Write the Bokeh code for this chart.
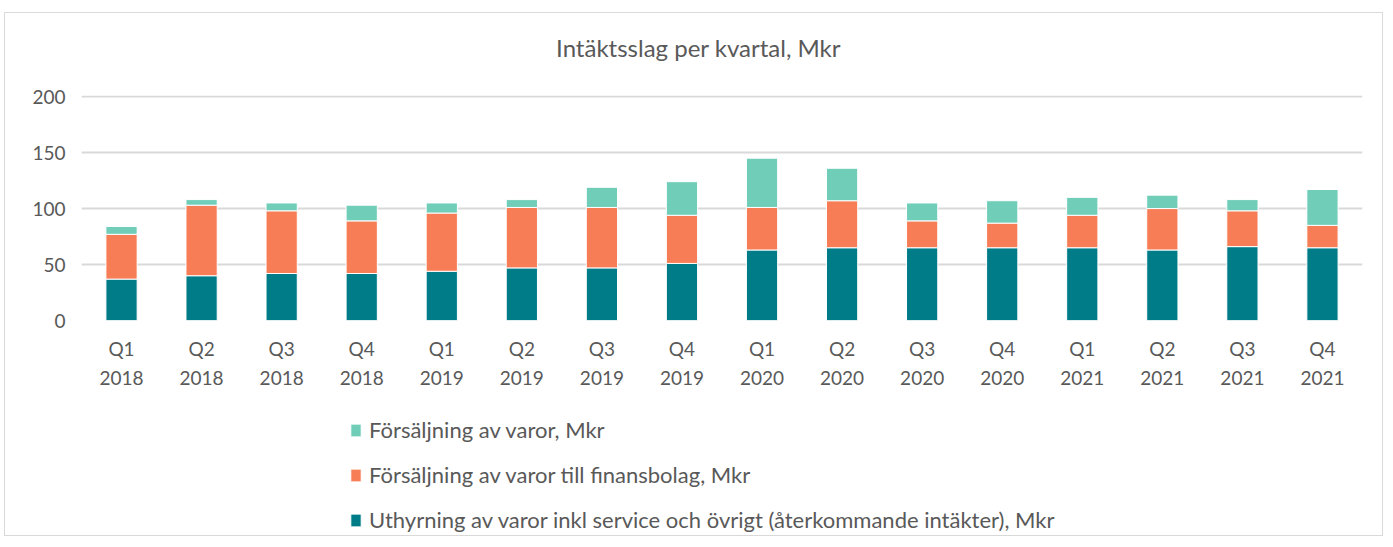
from bokeh.plotting import figure
from bokeh.layouts import column
from bokeh.models import Legend, LegendItem, Label, SingleIntervalTicker, Range1d
from bokeh.embed import file_html
from bokeh.resources import INLINE

quarters = ["Q1", "Q2", "Q3", "Q4"] * 4
years = ["2018"] * 4 + ["2019"] * 4 + ["2020"] * 4 + ["2021"] * 4
uthyrning = [37, 40, 42, 42, 44, 47, 47, 51, 63, 65, 65, 65, 65, 63, 66, 65]
finansbolag = [40, 63, 56, 47, 52, 54, 54, 43, 38, 42, 24, 22, 29, 37, 32, 20]
forsaljning = [7, 5, 7, 14, 9, 7, 18, 30, 44, 29, 16, 20, 16, 12, 10, 32]

series_names = [
    "Uthyrning av varor inkl service och övrigt (återkommande intäkter), Mkr",
    "Försäljning av varor till finansbolag, Mkr",
    "Försäljning av varor, Mkr",
]
title_text = "Intäktsslag per kvartal, Mkr"
colors = ["#007C89", "#F67D56", "#6FCDB8"]

labels = [f"{q}\n{y}" for q, y in zip(quarters, years)]
data = dict(x=labels, s0=uthyrning, s1=finansbolag, s2=forsaljning)

FONT = "Lato"
GREY = "#595959"
W = 1377
BL, BR = 76, 20

# title strip
tf = figure(x_range=Range1d(0, 1), y_range=Range1d(0, 1), width=W, height=71,
            output_backend="svg", toolbar_location=None,
            min_border_left=BL, min_border_right=BR, min_border_top=0,
            min_border_bottom=0, x_axis_location=None, y_axis_location=None)
tf.grid.grid_line_color = None
tf.outline_line_color = None
tf.add_layout(Label(x=0.4817, y=0.52, text=title_text, text_align="center",
                    text_baseline="middle", text_font=FONT,
                    text_font_size="24px", text_color=GREY))

# main chart
p = figure(x_range=labels, y_range=(0, 201), width=W, height=328,
           output_backend="svg", toolbar_location=None,
           min_border_left=BL, min_border_right=BR, min_border_top=11,
           min_border_bottom=92)

p.vbar_stack(["s0", "s1", "s2"], x="x", width=0.39, color=colors,
             line_color="white", line_width=1, source=data)

p.yaxis.ticker = SingleIntervalTicker(interval=50)
p.ygrid.ticker = SingleIntervalTicker(interval=50)
p.xgrid.grid_line_color = None
p.ygrid.grid_line_color = "#D9D9D9"
p.ygrid.grid_line_width = 2

for ax in (p.xaxis, p.yaxis):
    ax.axis_line_color = None
    ax.major_tick_line_color = None
    ax.minor_tick_line_color = None
    ax.major_label_text_font = FONT
    ax.major_label_text_font_size = "19px"
    ax.major_label_text_color = GREY
p.yaxis.major_label_standoff = 10
p.xaxis.major_label_standoff = 10
p.xaxis.major_label_text_line_height = 1.28
p.outline_line_color = None

# legend strip (same data; bars kept out of view)
lg = figure(x_range=labels, y_range=Range1d(1000, 1100), width=W, height=123,
            output_backend="svg", toolbar_location=None,
            min_border_left=BL, min_border_right=BR, min_border_top=0,
            min_border_bottom=0, x_axis_location=None, y_axis_location=None)
lg.grid.grid_line_color = None
lg.outline_line_color = None
lr = lg.vbar_stack(["s0", "s1", "s2"], x="x", width=0.39, color=colors,
                   line_color="white", line_width=1, source=data)

items = [LegendItem(label=series_names[i], renderers=[lr[i]]) for i in (2, 1, 0)]
legend = Legend(items=items, orientation="vertical", location=(268, 2),
                label_text_font=FONT, label_text_font_size="22px",
                label_text_color=GREY, glyph_width=13, glyph_height=16,
                label_height=22, spacing=18, padding=0, margin=0,
                border_line_color=None, background_fill_alpha=0,
                label_standoff=7)
lg.add_layout(legend, "center")

layout = column(tf, p, lg, spacing=0)
layout.styles = {"border": "1px solid #D9D9D9", "margin-top": "12px",
                 "margin-left": "4px"}

open("out.html", "w").write(file_html(layout, INLINE))
